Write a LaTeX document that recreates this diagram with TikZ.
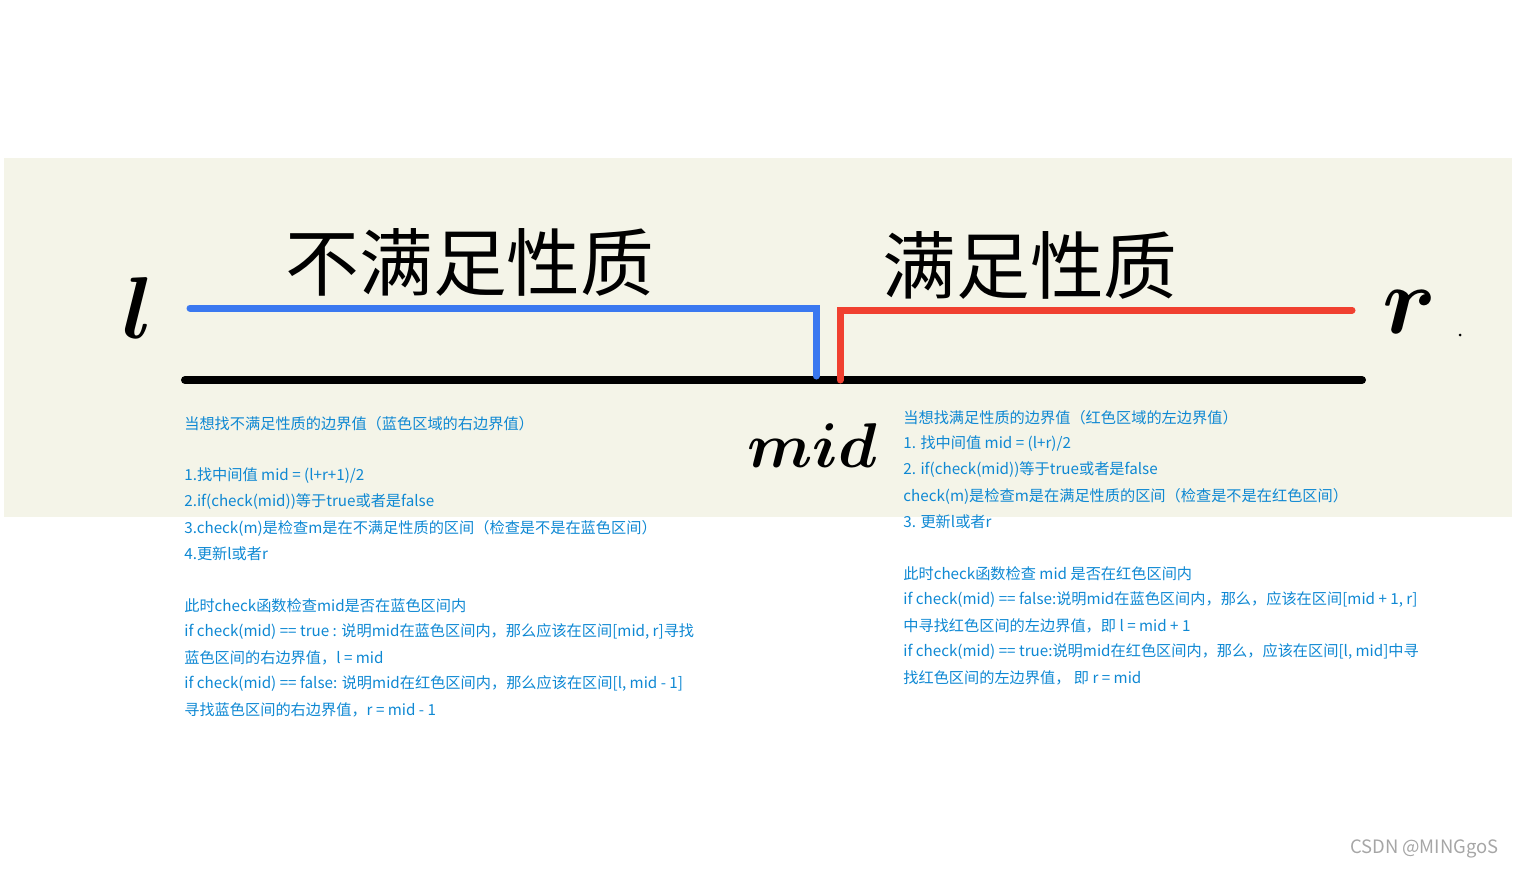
\documentclass[tikz,border=0pt]{standalone}
\usepackage{amsmath}
\usepackage{bm}
\usepackage{graphicx}
\usepackage{fontspec}
\setmainfont{Noto Sans CJK SC}
\newfontfamily\hand{Noto Sans CJK SC}
\begin{document}
\begin{tikzpicture}[x=0.02cm,y=-0.02cm,
  txt/.style={anchor=west,inner sep=0pt,text=cyan!70!blue,font=\fontsize{8.65}{10}\selectfont},
  big/.style={inner sep=0pt,font=\fontsize{42}{44}\selectfont\hand},
  lt/.style={inner sep=0pt}]
\useasboundingbox (0,0) rectangle (1514,870);
\fill[fill={rgb,255:red,244;green,244;blue,232}] (4,158) rectangle (1512,517);
\draw[line width=0.16cm,line cap=round] (185,380) -- (1362,380);
\draw[line width=0.14cm,line cap=round,color={rgb,255:red,58;green,120;blue,240}] (190,308) -- (816,308) -- (816,376);
\draw[line width=0.14cm,line cap=round,color={rgb,255:red,240;green,64;blue,48}] (840,380) -- (840,310) -- (1352,310);
\node[big] (a) at (470,262) {不满足性质};
\node[big] (b) at (1030,265) {满足性质};
\node[lt] (l) at (138,308) {\scalebox{5}{$\bm{l}$}};
\node[lt] (r) at (1410,312) {\scalebox{5.5}{$\bm{r}$}};
\node[lt] (m) at (812,446) {\scalebox{3.6}{$\bm{mid}$}};
\fill (1460,335) circle (1.5);
\foreach \y/\t in {424/当想找不满足性质的边界值（蓝色区域的右边界值）,
 476/{1.找中间值 mid = (l+r+1)/2},
 502/2.if(check(mid))等于true或者是false,
 528/3.check(m)是检查m是在不满足性质的区间（检查是不是在蓝色区间）,
 554/4.更新l或者r,
 606/此时check函数检查mid是否在蓝色区间内,
 632/{if check(mid) == true : 说明mid在蓝色区间内，那么应该在区间[mid, r]寻找},
 658/蓝色区间的右边界值，l = mid,
 684/{if check(mid) == false: 说明mid在红色区间内，那么应该在区间[l, mid - 1]},
 710/寻找蓝色区间的右边界值，r  = mid - 1}
 \node[txt] at (184,\y) {\t};
\foreach \y/\t in {418/当想找满足性质的边界值（红色区域的左边界值）,
 444/{1. 找中间值 mid = (l+r)/2},
 470/2. if(check(mid))等于true或者是false,
 496/check(m)是检查m是在满足性质的区间（检查是不是在红色区间）,
 522/3. 更新l或者r,
 574/此时check函数检查 mid 是否在红色区间内,
 600/{if check(mid) == false:说明mid在蓝色区间内，那么，应该在区间[mid + 1, r]},
 626/中寻找红色区间的左边界值，即 l = mid + 1,
 652/{if check(mid) == true:说明mid在红色区间内，那么，应该在区间[l, mid]中寻},
 678/找红色区间的左边界值， 即 r = mid}
 \node[txt] at (903,\y) {\t};
\node[anchor=east,inner sep=0pt,text=gray!70,font=\fontsize{10.5}{12}\selectfont] (c) at (1499,849) {CSDN @MINGgoS};
\end{tikzpicture}
\end{document}
